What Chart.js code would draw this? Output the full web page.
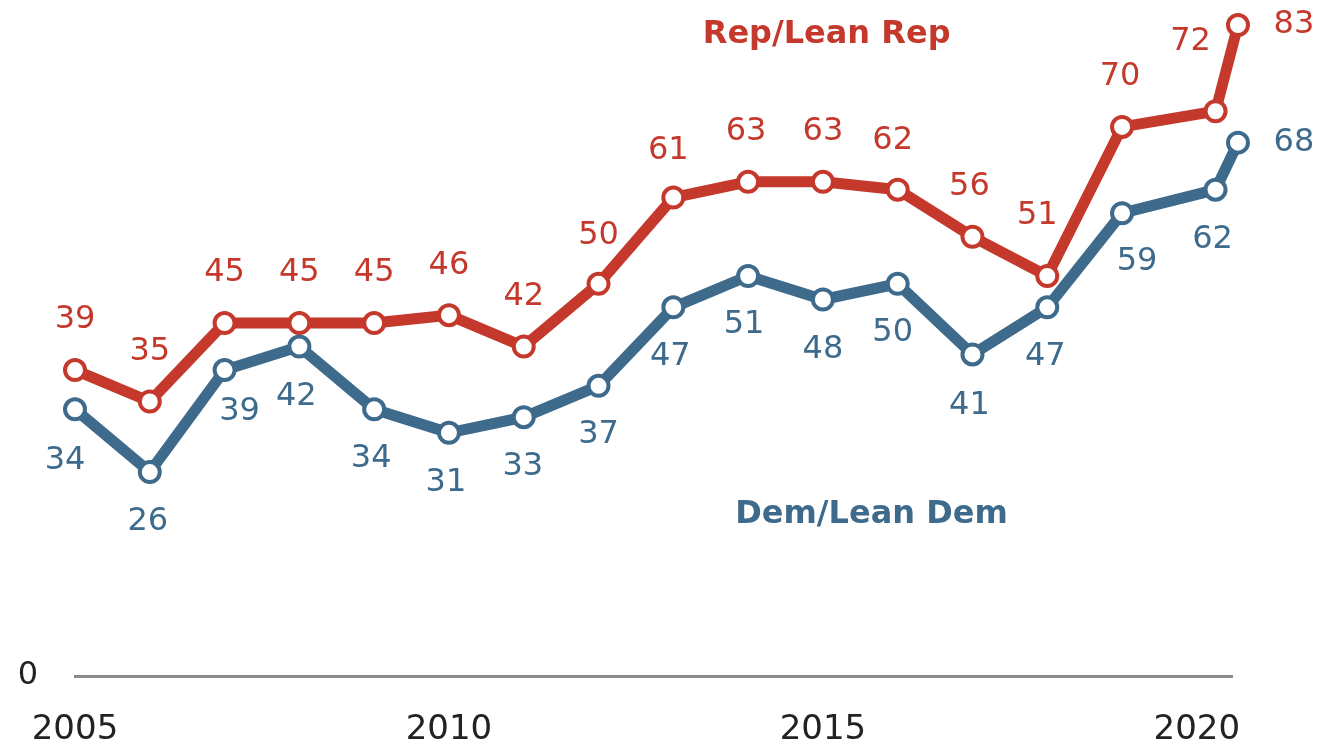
<!DOCTYPE html>
<html>
<head>
<meta charset="utf-8">
<script src="https://cdn.jsdelivr.net/npm/chart.js@4/dist/chart.umd.min.js"></script>
<style>
  html, body { margin: 0; padding: 0; background: #fff; }
  #wrap { width: 1323px; height: 740px; position: relative; }
</style>
</head>
<body>
<div id="wrap"><canvas id="chart"></canvas></div>
<script>
// survey years (last two are 2020 waves, spring and summer)
const years = [2005, 2006, 2007, 2008, 2009, 2010, 2011, 2012, 2013, 2014, 2015, 2016, 2017, 2018, 2019, 2020.25, 2020.55];
const repValues = [39, 35, 45, 45, 45, 46, 42, 50, 61, 63, 63, 62, 56, 51, 70, 72, 83];
const demValues = [34, 26, 39, 42, 34, 31, 33, 37, 47, 51, 48, 50, 41, 47, 59, 62, 68];
const yearTicks = [2005, 2010, 2015, 2020];

// label offsets from each point [dx, dy]
const repLabelPos = [[0,-50],[0,-50],[0,-50],[0,-50],[0,-50],[0,-50],[0,-50],[0,-48],[-5,-47],[-2,-50],[0,-50],[-5,-49],[-3,-50],[-10,-60],[-2,-50],[-25,-70],[56,0]];
const demLabelPos = [[-10,51],[-2,50],[15,42],[-3,50],[-3,49],[-3,50],[-1,50],[0,49],[-3,49],[-4,49],[0,50],[-5,49],[-3,51],[-2,49],[15,48],[-3,50],[56,0]];

const RED = "#c4392b";
const BLUE = "#3e6a8c";

const toPoints = (vals) => vals.map((v, i) => ({ x: years[i], y: v }));

const labelPlugin = {
  id: "pointLabels",
  afterDatasetsDraw(chart) {
    const ctx = chart.ctx;
    const offsets = [repLabelPos, demLabelPos];
    ctx.save();
    ctx.font = "32px 'DejaVu Sans'";
    ctx.textAlign = "center";
    ctx.textBaseline = "middle";
    chart.data.datasets.forEach((ds, di) => {
      const meta = chart.getDatasetMeta(di);
      ctx.fillStyle = ds.borderColor;
      meta.data.forEach((pt, i) => {
        const off = offsets[di][i];
        ctx.fillText(String(ds.data[i].y), pt.x + off[0], pt.y + off[1]);
      });
    });
    // series names
    const xs = chart.scales.x, ys = chart.scales.y;
    ctx.font = "bold 32px 'DejaVu Sans'";
    ctx.fillStyle = RED;
    ctx.fillText("Rep/Lean Rep", xs.getPixelForValue(2015.05), ys.getPixelForValue(81.7));
    ctx.fillStyle = BLUE;
    ctx.fillText("Dem/Lean Dem", xs.getPixelForValue(2015.65), ys.getPixelForValue(20.6));
    ctx.restore();
  }
};

new Chart(document.getElementById("chart"), {
  type: "line",
  data: {
    datasets: [
      {
        label: "Rep/Lean Rep",
        data: toPoints(repValues),
        borderColor: RED,
        borderWidth: 11,
        pointRadius: 10,
        pointBorderWidth: 4,
        pointBackgroundColor: "#fff",
        pointBorderColor: RED,
        tension: 0,
        clip: false,
      },
      {
        label: "Dem/Lean Dem",
        data: toPoints(demValues),
        borderColor: BLUE,
        borderWidth: 11,
        pointRadius: 10,
        pointBorderWidth: 4,
        pointBackgroundColor: "#fff",
        pointBorderColor: BLUE,
        tension: 0,
        clip: false,
      },
    ],
  },
  options: {
    responsive: true,
    maintainAspectRatio: false,
    animation: false,
    layout: { padding: { top: 0, right: 91, bottom: 0, left: 0 } },
    plugins: { legend: { display: false }, tooltip: { enabled: false } },
    scales: {
      x: {
        type: "linear",
        min: 2005,
        max: 2020.47,
        afterBuildTicks: (scale) => { scale.ticks = yearTicks.map((v) => ({ value: v })); },
        afterFit: (scale) => { scale.height = 64; scale.paddingLeft = 0; scale.paddingRight = 0; },
        grid: { display: false },
        border: { display: true, color: "#8a8a8a", width: 3 },
        ticks: {
          padding: 26,
          maxRotation: 0,
          autoSkip: false,
          color: "#222",
          font: { family: "'DejaVu Sans'", size: 34 },
          callback: (v) => String(v),
        },
      },
      y: {
        min: 0,
        max: 84.4,
        afterBuildTicks: (scale) => { scale.ticks = [{ value: 0 }]; },
        afterFit: (scale) => { scale.width = 75; scale.paddingTop = 0; scale.paddingBottom = 0; },
        grid: { display: false },
        border: { display: false },
        ticks: {
          padding: 29,
          color: "#222",
          font: { family: "'DejaVu Sans'", size: 32 },
        },
      },
    },
  },
  plugins: [labelPlugin],
});
</script>
</body>
</html>
